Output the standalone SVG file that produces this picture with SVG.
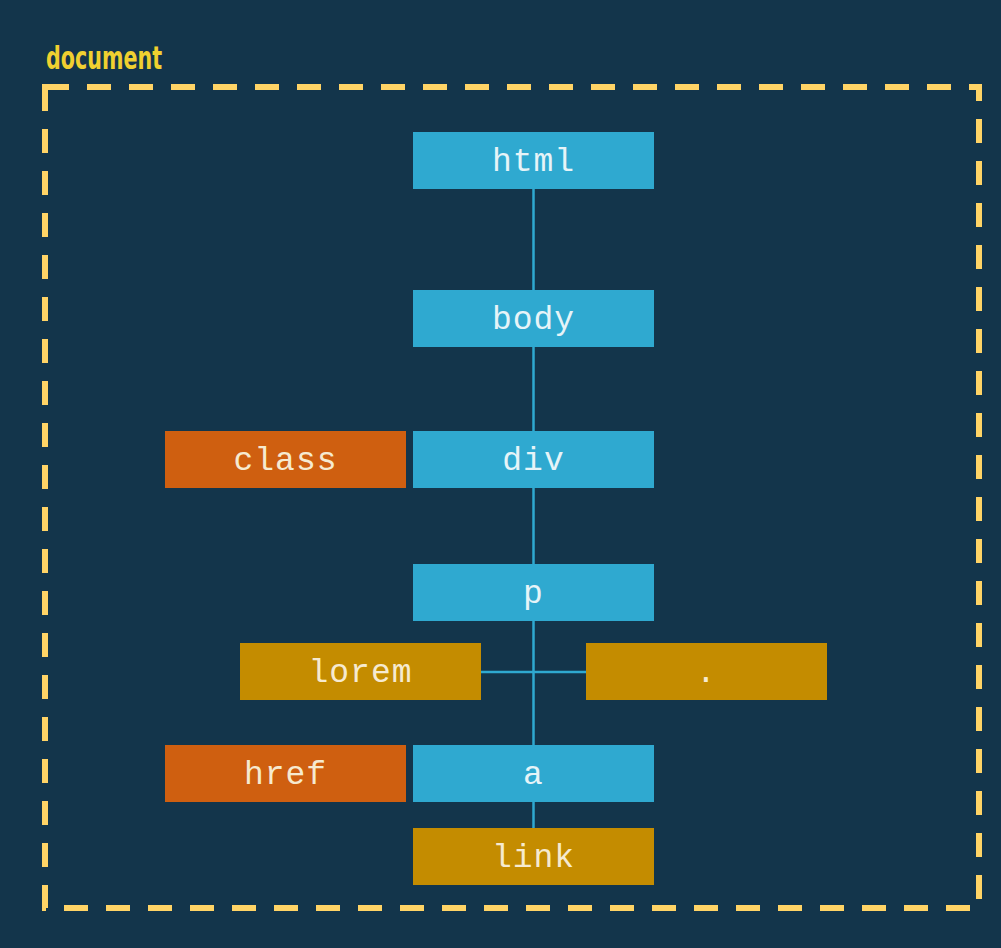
<svg xmlns="http://www.w3.org/2000/svg" width="1001" height="948" viewBox="0 0 1001 948">
<style>
.bg{fill:#13354b}
.blue{fill:#2fa9d0}
.orange{fill:#cf5f10}
.gold{fill:#c48c00}
.t{font-family:"Courier New",Courier,"Nimbus Mono PS","Nimbus Mono L","FreeMono","Liberation Mono",monospace;font-size:33px;text-anchor:middle;letter-spacing:1px}
.tb{fill:#e6f4f8}
.tg{fill:#f6ead0}
.conn{stroke:#2fa9d0;stroke-width:2.5;fill:none}
</style>
<rect class="bg" x="0" y="0" width="1001" height="948"/>
<g id="document">
<text x="46" y="69" font-family="'Liberation Sans Narrow','DejaVu Sans Condensed','Liberation Sans',sans-serif" font-weight="bold" font-size="32" fill="#f0d030" textLength="116" lengthAdjust="spacingAndGlyphs">document</text>
<rect x="45" y="87" width="934" height="821" fill="none" stroke="#ffd466" stroke-width="6" stroke-dasharray="24 18"/>
</g>
<g id="connectors">
<line class="conn" x1="533.5" y1="189" x2="533.5" y2="828"/>
<line class="conn" x1="481" y1="672" x2="586" y2="672"/>
</g>
<g id="html"><rect class="blue" x="413" y="132" width="241" height="57"/><text class="t tb" x="533.5" y="171">html</text></g>
<g id="body"><rect class="blue" x="413" y="290" width="241" height="57"/><text class="t tb" x="533.5" y="329">body</text></g>
<g id="class"><rect class="orange" x="165" y="431" width="241" height="57"/><text class="t tg" x="285.5" y="470">class</text></g>
<g id="div"><rect class="blue" x="413" y="431" width="241" height="57"/><text class="t tb" x="533.5" y="470">div</text></g>
<g id="p"><rect class="blue" x="413" y="564" width="241" height="57"/><text class="t tb" x="533.5" y="603">p</text></g>
<g id="lorem"><rect class="gold" x="240" y="643" width="241" height="57"/><text class="t tg" x="360.5" y="682">lorem</text></g>
<g id="dot"><rect class="gold" x="586" y="643" width="241" height="57"/><text class="t tg" x="706.5" y="682">.</text></g>
<g id="href"><rect class="orange" x="165" y="745" width="241" height="57"/><text class="t tg" x="285.5" y="784">href</text></g>
<g id="a"><rect class="blue" x="413" y="745" width="241" height="57"/><text class="t tb" x="533.5" y="784">a</text></g>
<g id="link"><rect class="gold" x="413" y="828" width="241" height="57"/><text class="t tg" x="533.5" y="867">link</text></g>
</svg>
